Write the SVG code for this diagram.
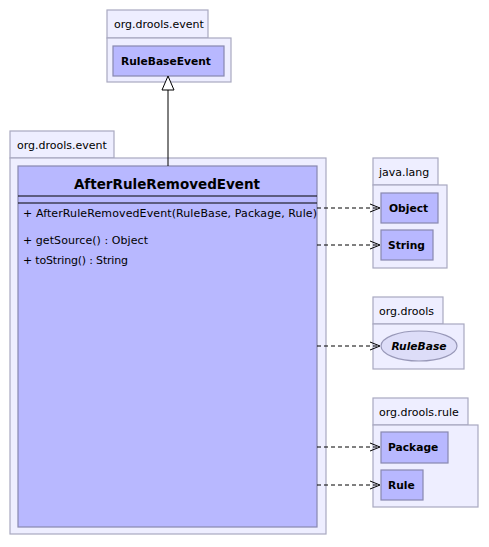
<svg xmlns="http://www.w3.org/2000/svg" width="489" height="547" viewBox="0 0 489 547">
<style>
.pkg{fill:#eeeeff;stroke:#a8a8c0;stroke-width:1.2}
.cls{fill:#b8b8ff;stroke:#8888b0;stroke-width:1.2}
.ell{fill:#ddddf8;stroke:#9898b8;stroke-width:1.2}
.pl{font-family:"DejaVu Sans",sans-serif;font-size:11px;fill:#000}
.cn{font-family:"DejaVu Sans",sans-serif;font-size:10.7px;font-weight:bold;fill:#000}
.op{font-family:"DejaVu Sans",sans-serif;font-size:11px;fill:#000}
.dep{fill:none;stroke:#000;stroke-width:1;stroke-dasharray:4,3}
.head{fill:none;stroke:#000;stroke-width:1}
</style>
<rect width="489" height="547" fill="#ffffff"/>
<g id="pkg-event-top">
<rect class="pkg" x="107" y="10" width="101" height="28"/>
<rect class="pkg" x="107" y="38" width="124" height="44"/>
<text class="pl" x="114" y="28">org.drools.event</text>
</g>
<g id="RuleBaseEvent">
<rect class="cls" x="113" y="46" width="111" height="30"/>
<text class="cn" x="166" y="65" text-anchor="middle">RuleBaseEvent</text>
</g>
<g id="pkg-event-main">
<rect class="pkg" x="10" y="131" width="104" height="27"/>
<rect class="pkg" x="10" y="158" width="316" height="376"/>
<text class="pl" x="17" y="149">org.drools.event</text>
</g>
<g id="AfterRuleRemovedEvent">
<rect class="cls" x="18" y="166" width="299" height="361"/>
<text class="cn" x="167" y="189" text-anchor="middle" style="font-size:13.5px">AfterRuleRemovedEvent</text>
<line x1="18" y1="196" x2="317" y2="196" stroke="#000" stroke-width="1"/>
<line x1="18" y1="203" x2="317" y2="203" stroke="#000" stroke-width="1"/>
<text class="op" x="23" y="217" textLength="294" lengthAdjust="spacing">+ AfterRuleRemovedEvent(RuleBase, Package, Rule)</text>
<text class="op" x="23" y="244" textLength="125" lengthAdjust="spacing">+ getSource() : Object</text>
<text class="op" x="23" y="264" textLength="105" lengthAdjust="spacing">+ toString() : String</text>
</g>
<g id="pkg-java-lang">
<rect class="pkg" x="373" y="158" width="65" height="27"/>
<rect class="pkg" x="373" y="185" width="74" height="83"/>
<text class="pl" x="379" y="176">java.lang</text>
</g>
<g id="Object">
<rect class="cls" x="381" y="193" width="57" height="30"/>
<text class="cn" x="389" y="212">Object</text>
</g>
<g id="String">
<rect class="cls" x="381" y="230" width="52" height="30"/>
<text class="cn" x="388" y="249">String</text>
</g>
<g id="pkg-drools">
<rect class="pkg" x="373" y="297" width="70" height="27"/>
<rect class="pkg" x="373" y="324" width="91" height="45"/>
<text class="pl" x="379" y="315">org.drools</text>
</g>
<g id="RuleBase">
<ellipse class="ell" cx="419" cy="346" rx="38" ry="15"/>
<text class="cn" x="419" y="350" text-anchor="middle" font-style="italic">RuleBase</text>
</g>
<g id="pkg-drools-rule">
<rect class="pkg" x="373" y="398" width="95" height="27"/>
<rect class="pkg" x="373" y="425" width="105" height="82"/>
<text class="pl" x="379" y="416">org.drools.rule</text>
</g>
<g id="Package">
<rect class="cls" x="381" y="432" width="67" height="31"/>
<text class="cn" x="388" y="451">Package</text>
</g>
<g id="Rule">
<rect class="cls" x="381" y="470" width="42" height="30"/>
<text class="cn" x="388" y="489">Rule</text>
</g>
<g id="connectors">
<line x1="168" y1="166" x2="168" y2="90" stroke="#000" stroke-width="1"/>
<polygon points="168,76 162,90 174,90" fill="#ffffff" stroke="#000" stroke-width="1"/>
<line class="dep" x1="317" y1="208" x2="380" y2="208"/>
<polyline class="head" points="370,204 380,208 370,212"/>
<line class="dep" x1="317" y1="245" x2="380" y2="245"/>
<polyline class="head" points="370,241 380,245 370,249"/>
<line class="dep" x1="317" y1="346" x2="380" y2="346"/>
<polyline class="head" points="370,342 380,346 370,350"/>
<line class="dep" x1="317" y1="447" x2="380" y2="447"/>
<polyline class="head" points="370,443 380,447 370,451"/>
<line class="dep" x1="317" y1="485" x2="380" y2="485"/>
<polyline class="head" points="370,481 380,485 370,489"/>
</g>
</svg>
